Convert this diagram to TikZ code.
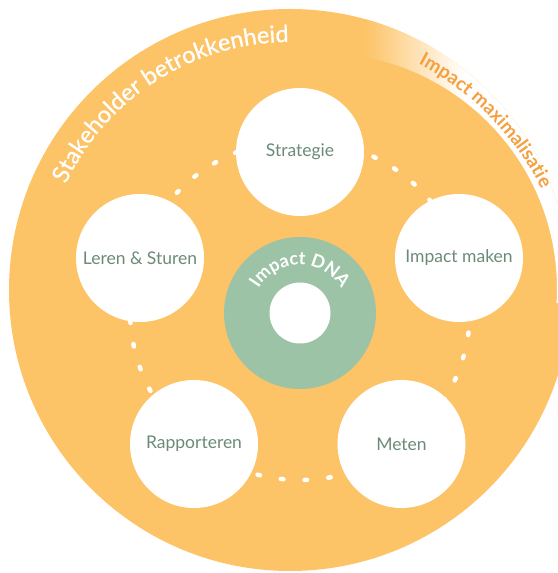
\documentclass[tikz,border=0pt]{standalone}
\usepackage{fontspec}
\setmainfont{Lato}
\newfontfamily\ringfont{Lato}[FakeBold=0.8]
\usetikzlibrary{decorations.text,positioning}
\definecolor{ringorange}{HTML}{FDC367}
\definecolor{dnagreen}{HTML}{9DC3A6}
\definecolor{labelgreen}{HTML}{6B8B78}
\definecolor{maxorange}{HTML}{F5A040}
\tikzset
{
    stepnode/.style = {circle, fill=white, minimum size=128pt, inner sep=0pt, align=center, text=labelgreen, font=\fontsize{17.5}{19}\selectfont},
    dnaring/.style  = {circle, fill=dnagreen, minimum size=152pt, inner sep=0pt},
    dnacore/.style  = {circle, fill=white, minimum size=61pt, inner sep=0pt},
    orbitdots/.style = {draw=white, line width=4.5pt, line cap=round, dash pattern=on 2.5pt off 21.236pt, dash phase=1.25pt},
    arctext/.style 2 args = {decorate, decoration={text along path, text align=center, text color=#1, text={#2}}}
}

\begin{document}
\begin{tikzpicture}[x=1pt, y=1pt]

   \newcommand\RINGR{281}
   \newcommand\ORBITR{170}

   \useasboundingbox (0,0) rectangle (557,573);

   % big disc
   \coordinate (hub)    at (290,283);
   \coordinate (fade)   at (321,284);
   \coordinate (maxhub) at (285,255);
   \coordinate (orbit)  at (300,263);
   \fill[ringorange] (hub) circle (\RINGR);

   % faded band top right
   \begin{scope}[even odd rule]
      \clip (hub) circle (\RINGR);
      \clip (-20,-20) rectangle (600,600) (fade) circle (236);
      \shade[left color=ringorange, right color=white] (365,270) rectangle (465,590);
      \fill[white] (465,270) rectangle (600,590);
   \end{scope}

   % dotted orbit behind the steps
   \draw[orbitdots] (orbit) circle (\ORBITR);

   \node (dna)    [dnaring]  at (300,260)   {};
   \node (core)   [dnacore]  at (dna)       {};

   \node (strat)  [stepnode] at (300,421)   {Strategie};
   \node (impact) [stepnode] at (459,315)   {Impact maken};
   \node (meten)  [stepnode] at (401.5,129) {Meten};
   \node (rapp)   [stepnode] at (194,129)   {Rapporteren};
   \node (leren)  [stepnode] at (140,315)   {Leren \& Sturen};

   % curved labels
   \path[arctext={white}{|\ringfont\fontsize{23.5}{24}\selectfont|Stakeholder betrokkenheid}]
      ([shift=({170:248})]hub) arc[start angle=170, end angle=75, radius=248];
   \path[arctext={maxorange}{|\fontsize{19}{19}\selectfont\bfseries|Impact maximalisatie}]
      ([shift=({74.5:287})]maxhub) arc[start angle=74.5, end angle=14.5, radius=287];
   \path[arctext={white}{|\fontsize{18}{18}\selectfont\bfseries|Impact DNA}]
      ([shift=({170:48})]dna.center) arc[start angle=170, end angle=10, radius=48];

\end{tikzpicture}
\end{document}
